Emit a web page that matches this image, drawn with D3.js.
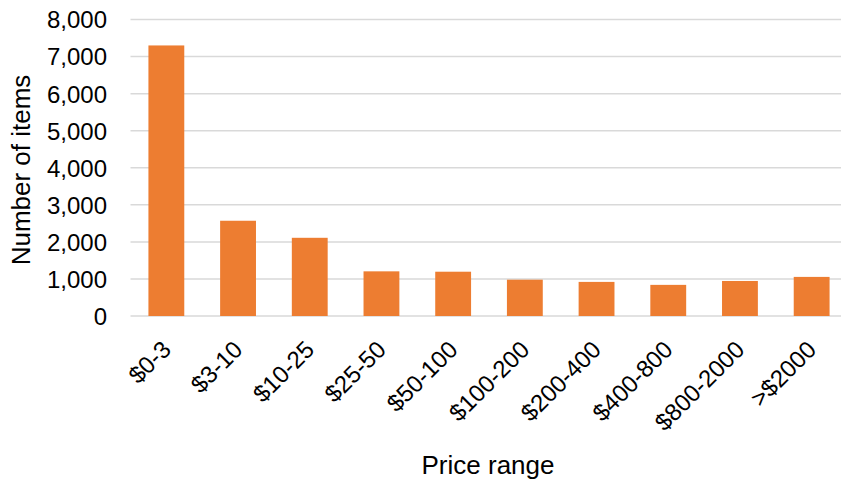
<!DOCTYPE html>
<html>
<head>
<meta charset="utf-8">
<script src="https://cdn.jsdelivr.net/npm/d3@7"></script>
<style>
  html, body { margin: 0; padding: 0; background: #fff; }
  svg { display: block; font-family: "Liberation Sans", Arial, sans-serif; }
</style>
</head>
<body>
<svg id="chart" width="841" height="483"></svg>
<script>
// Item counts per price bucket
const categories = ["$0-3", "$3-10", "$10-25", "$25-50", "$50-100", "$100-200", "$200-400", "$400-800", "$800-2000", ">$2000"];
const counts = [7300, 2570, 2110, 1205, 1195, 980, 920, 840, 945, 1055];
const yTicks = [0, 1000, 2000, 3000, 4000, 5000, 6000, 7000, 8000];

const plot = { left: 130.5, right: 847.5, top: 19.5, bottom: 316 };

const svg = d3.select("#chart");

const x = d3.scaleBand()
  .domain(categories)
  .range([plot.left, plot.right])
  .paddingInner(0.5)
  .paddingOuter(0.25);

const y = d3.scaleLinear()
  .domain([0, 8000])
  .range([plot.bottom, plot.top]);

const fmt = d3.format(",");

// Horizontal gridlines
svg.append("g")
  .selectAll("line")
  .data(yTicks)
  .join("line")
  .attr("x1", plot.left)
  .attr("x2", plot.right)
  .attr("y1", d => y(d))
  .attr("y2", d => y(d))
  .attr("stroke", "#d9d9d9")
  .attr("stroke-width", 1.5);

// Y axis labels
const yAxis = d3.axisLeft(y).tickValues(yTicks).tickFormat(fmt).tickSize(0).tickPadding(0);
const gy = svg.append("g")
  .attr("transform", `translate(107,0)`)
  .call(yAxis);
gy.select(".domain").remove();
gy.selectAll("text")
  .attr("font-family", "Liberation Sans, Arial, sans-serif")
  .attr("font-size", 24)
  .attr("fill", "#000")
  .attr("dy", "0.35em");

// Bars
svg.append("g")
  .selectAll("rect")
  .data(categories)
  .join("rect")
  .attr("x", d => x(d))
  .attr("width", x.bandwidth())
  .attr("y", (d, i) => y(counts[i]))
  .attr("height", (d, i) => y(0) - y(counts[i]))
  .attr("fill", "#ed7d31");

// Category labels, rotated
const xAxis = d3.axisBottom(x).tickSize(0).tickPadding(0);
const gx = svg.append("g").call(xAxis);
gx.select(".domain").remove();
gx.selectAll(".tick")
  .attr("transform", d => `translate(${x(d) + x.bandwidth() / 2 + 6},351)`);
gx.selectAll("text")
  .attr("font-family", "Liberation Sans, Arial, sans-serif")
  .attr("font-size", 24)
  .attr("fill", "#000")
  .attr("y", 0)
  .attr("dy", 0)
  .attr("text-anchor", "end")
  .attr("transform", "rotate(-45)");

// Axis titles
svg.append("text")
  .attr("x", 488)
  .attr("y", 474)
  .attr("text-anchor", "middle")
  .attr("font-size", 26)
  .attr("fill", "#000")
  .text("Price range");

svg.append("text")
  .attr("transform", "translate(30,170) rotate(-90)")
  .attr("text-anchor", "middle")
  .attr("font-size", 26)
  .attr("fill", "#000")
  .text("Number of items");
</script>
</body>
</html>
